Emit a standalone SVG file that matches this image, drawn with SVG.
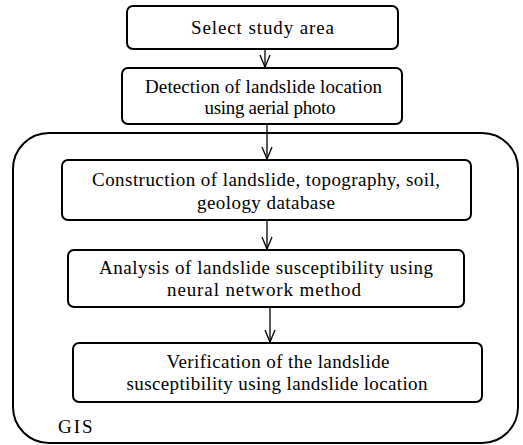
<svg xmlns="http://www.w3.org/2000/svg" width="523" height="445" viewBox="0 0 523 445">
<style>
.box{fill:#fff;stroke:#000;stroke-width:2}
.t{font-family:"Liberation Serif","Times New Roman",serif;font-size:19px;fill:#000;text-anchor:middle}
.c{stroke:#000;stroke-width:1.3;fill:none}
</style>
<defs>
<marker id="ah" markerWidth="16" markerHeight="14" refX="0" refY="0" orient="auto" markerUnits="userSpaceOnUse" viewBox="-14 -7 16 14">
<path d="M-12,-5 L0,0 L-12,5" fill="none" stroke="#000" stroke-width="1.3"/>
</marker>
</defs>
<rect width="523" height="445" fill="#fff"/>
<g id="gis">
<rect x="13" y="133" width="505" height="310" rx="36" ry="36" class="box"/>
<text x="58" y="433" font-family="Liberation Serif, serif" font-size="19" letter-spacing="2">GIS</text>
</g>
<g id="n1">
<rect x="127" y="6" width="271" height="43" rx="6" class="box"/>
<text class="t" x="262.5" y="34" textLength="143" lengthAdjust="spacing">Select study area</text>
</g>
<g id="n2">
<rect x="122" y="68" width="280" height="56" rx="6" class="box"/>
<text class="t" x="263.5" y="93" textLength="237" lengthAdjust="spacing">Detection of landslide location</text>
<text class="t" x="270" y="114" textLength="131" lengthAdjust="spacing">using aerial photo</text>
</g>
<g id="n3">
<rect x="62" y="160" width="409" height="60" rx="6" class="box"/>
<text class="t" x="266" y="186" textLength="348" lengthAdjust="spacing">Construction of landslide, topography, soil,</text>
<text class="t" x="266" y="209" textLength="138" lengthAdjust="spacing">geology database</text>
</g>
<g id="n4">
<rect x="68" y="250" width="396" height="57" rx="6" class="box"/>
<text class="t" x="266" y="274" textLength="334" lengthAdjust="spacing">Analysis of landslide susceptibility using</text>
<text class="t" x="264" y="296" textLength="194" lengthAdjust="spacing">neural network method</text>
</g>
<g id="n5">
<rect x="73" y="343" width="409" height="59" rx="6" class="box"/>
<text class="t" x="278" y="368" textLength="223" lengthAdjust="spacing">Verification of the landslide</text>
<text class="t" x="277" y="390" textLength="301" lengthAdjust="spacing">susceptibility using landslide location</text>
</g>
<g id="connectors">
<line class="c" x1="265" y1="49" x2="265" y2="67" marker-end="url(#ah)"/>
<line class="c" x1="267" y1="124" x2="267" y2="159" marker-end="url(#ah)"/>
<line class="c" x1="267" y1="220" x2="267" y2="249" marker-end="url(#ah)"/>
<line class="c" x1="270" y1="307" x2="270" y2="342" marker-end="url(#ah)"/>
</g>
</svg>
